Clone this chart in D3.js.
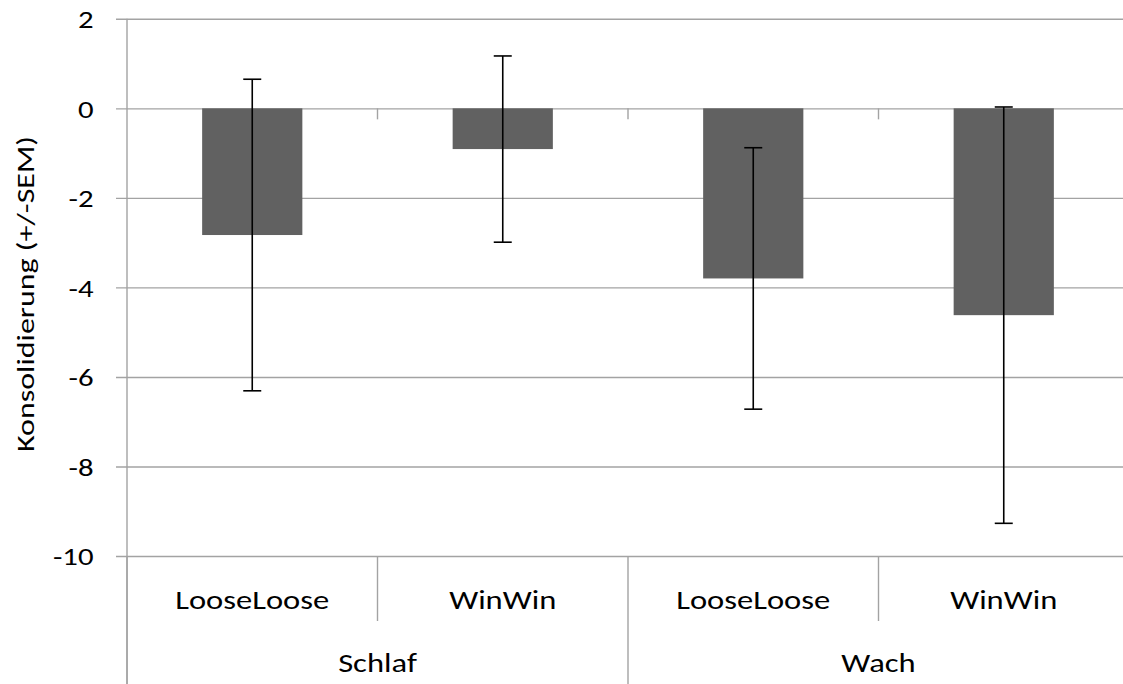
<!DOCTYPE html>
<html>
<head>
<meta charset="utf-8">
<script src="https://cdn.jsdelivr.net/npm/d3@7"></script>
<style>
  html, body { margin: 0; padding: 0; background: #fff; }
  svg { display: block; }
  text { font-family: Carlito, Calibri, Lato, "Open Sans", sans-serif; fill: #000; }
</style>
</head>
<body>
<svg id="chart" width="1123" height="684"></svg>
<script>
// ---- data ----
const groups = ["Schlaf", "Schlaf", "Wach", "Wach"];
const conditions = ["LooseLoose", "WinWin", "LooseLoose", "WinWin"];
const means = [-2.83, -0.91, -3.80, -4.62];
const sems = [3.48, 2.08, 2.92, 4.65];
const yTicks = [-10, -8, -6, -4, -2, 0, 2];
const groupNames = ["Schlaf", "Wach"];
const yTitle = "Konsolidierung (+/-SEM)";

// ---- layout ----
const W = 1123, H = 684;
const plot = { left: 127, right: 1129, top: 18.8, bottom: 556 };
const svg = d3.select("#chart");
const gridColor = "#a3a3a3";
const FONT = "Carlito, Calibri, Lato, sans-serif";

// widen text horizontally like the reference rendering
function stretch(sel, k) {
  sel.each(function () {
    const n = this.getComputedTextLength();
    d3.select(this).attr("textLength", n * k).attr("lengthAdjust", "spacingAndGlyphs");
  });
}

const ids = conditions.map((c, i) => i);
const x = d3.scaleBand().domain(ids).range([plot.left, plot.right])
  .paddingInner(0.6).paddingOuter(0.3);
const y = d3.scaleLinear().domain([-10, 2]).range([plot.bottom, plot.top]);
const step = x.step();

// gridlines + y ticks via axis
const yAxis = d3.axisLeft(y).tickValues(yTicks)
  .tickSize(-(plot.right - plot.left)).tickSizeOuter(0).tickPadding(22)
  .tickFormat(d => String(d));
const gy = svg.append("g").attr("transform", `translate(${plot.left},0)`).call(yAxis);
gy.select(".domain").remove();
gy.selectAll(".tick line").attr("stroke", gridColor).attr("stroke-width", 1.4)
  .attr("x1", -11);
const tickTexts = gy.selectAll(".tick text").attr("font-size", 25).attr("fill", "#000")
  .attr("font-family", FONT)
  .attr("x", -33.5).attr("dy", "0.35em");
const widest = tickTexts.filter(d => d === -10).node();
stretch(tickTexts, 40.6 / widest.getComputedTextLength());

// y axis line (extends to bottom of category label area)
svg.append("line").attr("x1", plot.left).attr("x2", plot.left)
  .attr("y1", plot.top).attr("y2", H)
  .attr("stroke", gridColor).attr("stroke-width", 1.4);

// category ticks at zero line
const boundaries = d3.range(1, conditions.length).map(i => plot.left + i * step);
svg.selectAll(".zt").data(boundaries).join("line")
  .attr("x1", d => d).attr("x2", d => d)
  .attr("y1", y(0)).attr("y2", y(0) + 11)
  .attr("stroke", gridColor).attr("stroke-width", 1.4);

// category label separators
svg.selectAll(".sep").data(d3.range(0, conditions.length + 1)).join("line")
  .attr("x1", i => plot.left + i * step).attr("x2", i => plot.left + i * step)
  .attr("y1", plot.bottom)
  .attr("y2", i => (i % 2 === 0 ? H : 621))
  .attr("stroke", gridColor).attr("stroke-width", 1.4);

// bars
svg.selectAll(".bar").data(ids).join("rect")
  .attr("x", i => x(i)).attr("width", x.bandwidth())
  .attr("y", i => y(Math.max(0, means[i])))
  .attr("height", i => Math.abs(y(means[i]) - y(0)))
  .attr("fill", "#616161");

// error bars
const cap = 9;
const eb = svg.selectAll(".eb").data(ids).join("g")
  .attr("stroke", "#000").attr("stroke-width", 1.6);
eb.append("line")
  .attr("x1", i => x(i) + x.bandwidth() / 2).attr("x2", i => x(i) + x.bandwidth() / 2)
  .attr("y1", i => y(means[i] + sems[i])).attr("y2", i => y(means[i] - sems[i]));
eb.append("line")
  .attr("x1", i => x(i) + x.bandwidth() / 2 - cap).attr("x2", i => x(i) + x.bandwidth() / 2 + cap)
  .attr("y1", i => y(means[i] + sems[i])).attr("y2", i => y(means[i] + sems[i]));
eb.append("line")
  .attr("x1", i => x(i) + x.bandwidth() / 2 - cap).attr("x2", i => x(i) + x.bandwidth() / 2 + cap)
  .attr("y1", i => y(means[i] - sems[i])).attr("y2", i => y(means[i] - sems[i]));

// condition labels
const cl = svg.selectAll(".cl").data(ids).join("text")
  .attr("x", i => x(i) + x.bandwidth() / 2).attr("y", 600)
  .attr("dy", "0.35em").attr("text-anchor", "middle").attr("font-size", 27)
  .text(i => conditions[i]);
const kLab = 154 / cl.node().getComputedTextLength();
stretch(cl, kLab);

// group labels
const gl = svg.selectAll(".gl").data(groupNames).join("text")
  .attr("x", g => {
    const idx = groups.map((d, i) => d === g ? i : -1).filter(i => i >= 0);
    return (x(idx[0]) + x(idx[idx.length - 1]) + x.bandwidth()) / 2;
  })
  .attr("y", 663).attr("dy", "0.35em").attr("text-anchor", "middle").attr("font-size", 27)
  .text(g => g);
stretch(gl, kLab);

// y title
const yt = svg.append("text")
  .attr("transform", `translate(34,294) rotate(-90)`)
  .attr("text-anchor", "middle").attr("font-size", 25)
  .text(yTitle);
stretch(yt, 316 / yt.node().getComputedTextLength());
</script>
</body>
</html>
